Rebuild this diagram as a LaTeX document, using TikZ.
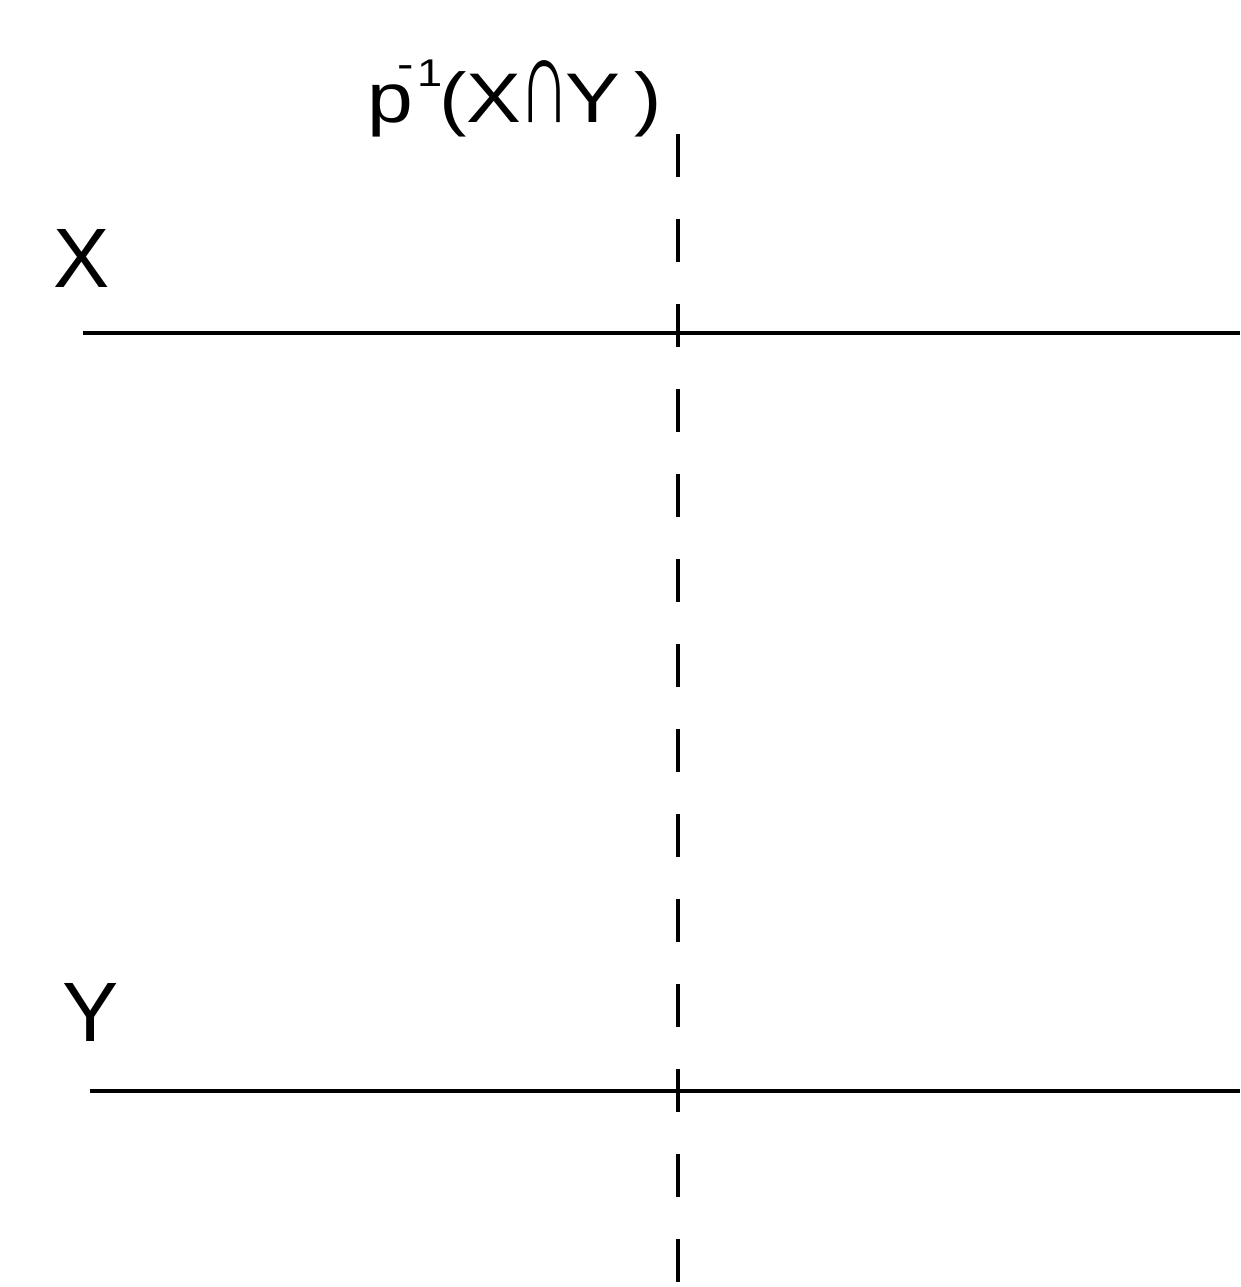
\documentclass[tikz,border=0pt]{standalone}
\usepackage{fontspec}
\setmainfont{Liberation Sans}
\usepackage{tikz}
\usetikzlibrary{positioning}

\tikzset{
  fibre/.style={line width=2.4pt, black},
  preimage/.style={line width=2.3pt, black, dash pattern=on 0.86cm off 0.84cm},
  setlabel/.style={anchor=base west, inner sep=0pt, font=\fontsize{48}{56}\selectfont},
  toplabel/.style={anchor=base west, inner sep=0pt, font=\fontsize{40}{48}\selectfont}
}
\newcommand{\tallcap}{\scalebox{0.85}[1.75]{∩}}

\begin{document}
\begin{tikzpicture}[x=0.02cm, y=-0.02cm]
  \useasboundingbox (0,0) rectangle (1240,1287);

  % Prostor X
  \coordinate (xl) at (83,333);
  \coordinate (xr) at (1240,333);
  \draw[fibre] (xl) -- (xr);
  \node[setlabel] (xlab) at (53,288) {X};

  % Prostor Y
  \coordinate (yl) at (90,1091);
  \coordinate (yr) at (1240,1091);
  \draw[fibre] (yl) -- (yr);
  \node[setlabel] (ylab) at (62,1041) {Y};

  % Vzor průniku
  \coordinate (pt) at (678,134);
  \coordinate (pb) at (678,1287);
  \draw[preimage] (pt) -- (pb);
  \node[toplabel] (plab) at (367,123) {\scalebox{1.17}[1]{p\kern-7.5pt\raisebox{25.5pt}{\fontsize{24}{24}\selectfont -}\kern1.5pt\raisebox{21pt}{\fontsize{22}{22}\selectfont 1}\kern-1.5pt(X\kern-1pt\tallcap\kern-2pt Y\kern7pt)}};
\end{tikzpicture}
\end{document}
